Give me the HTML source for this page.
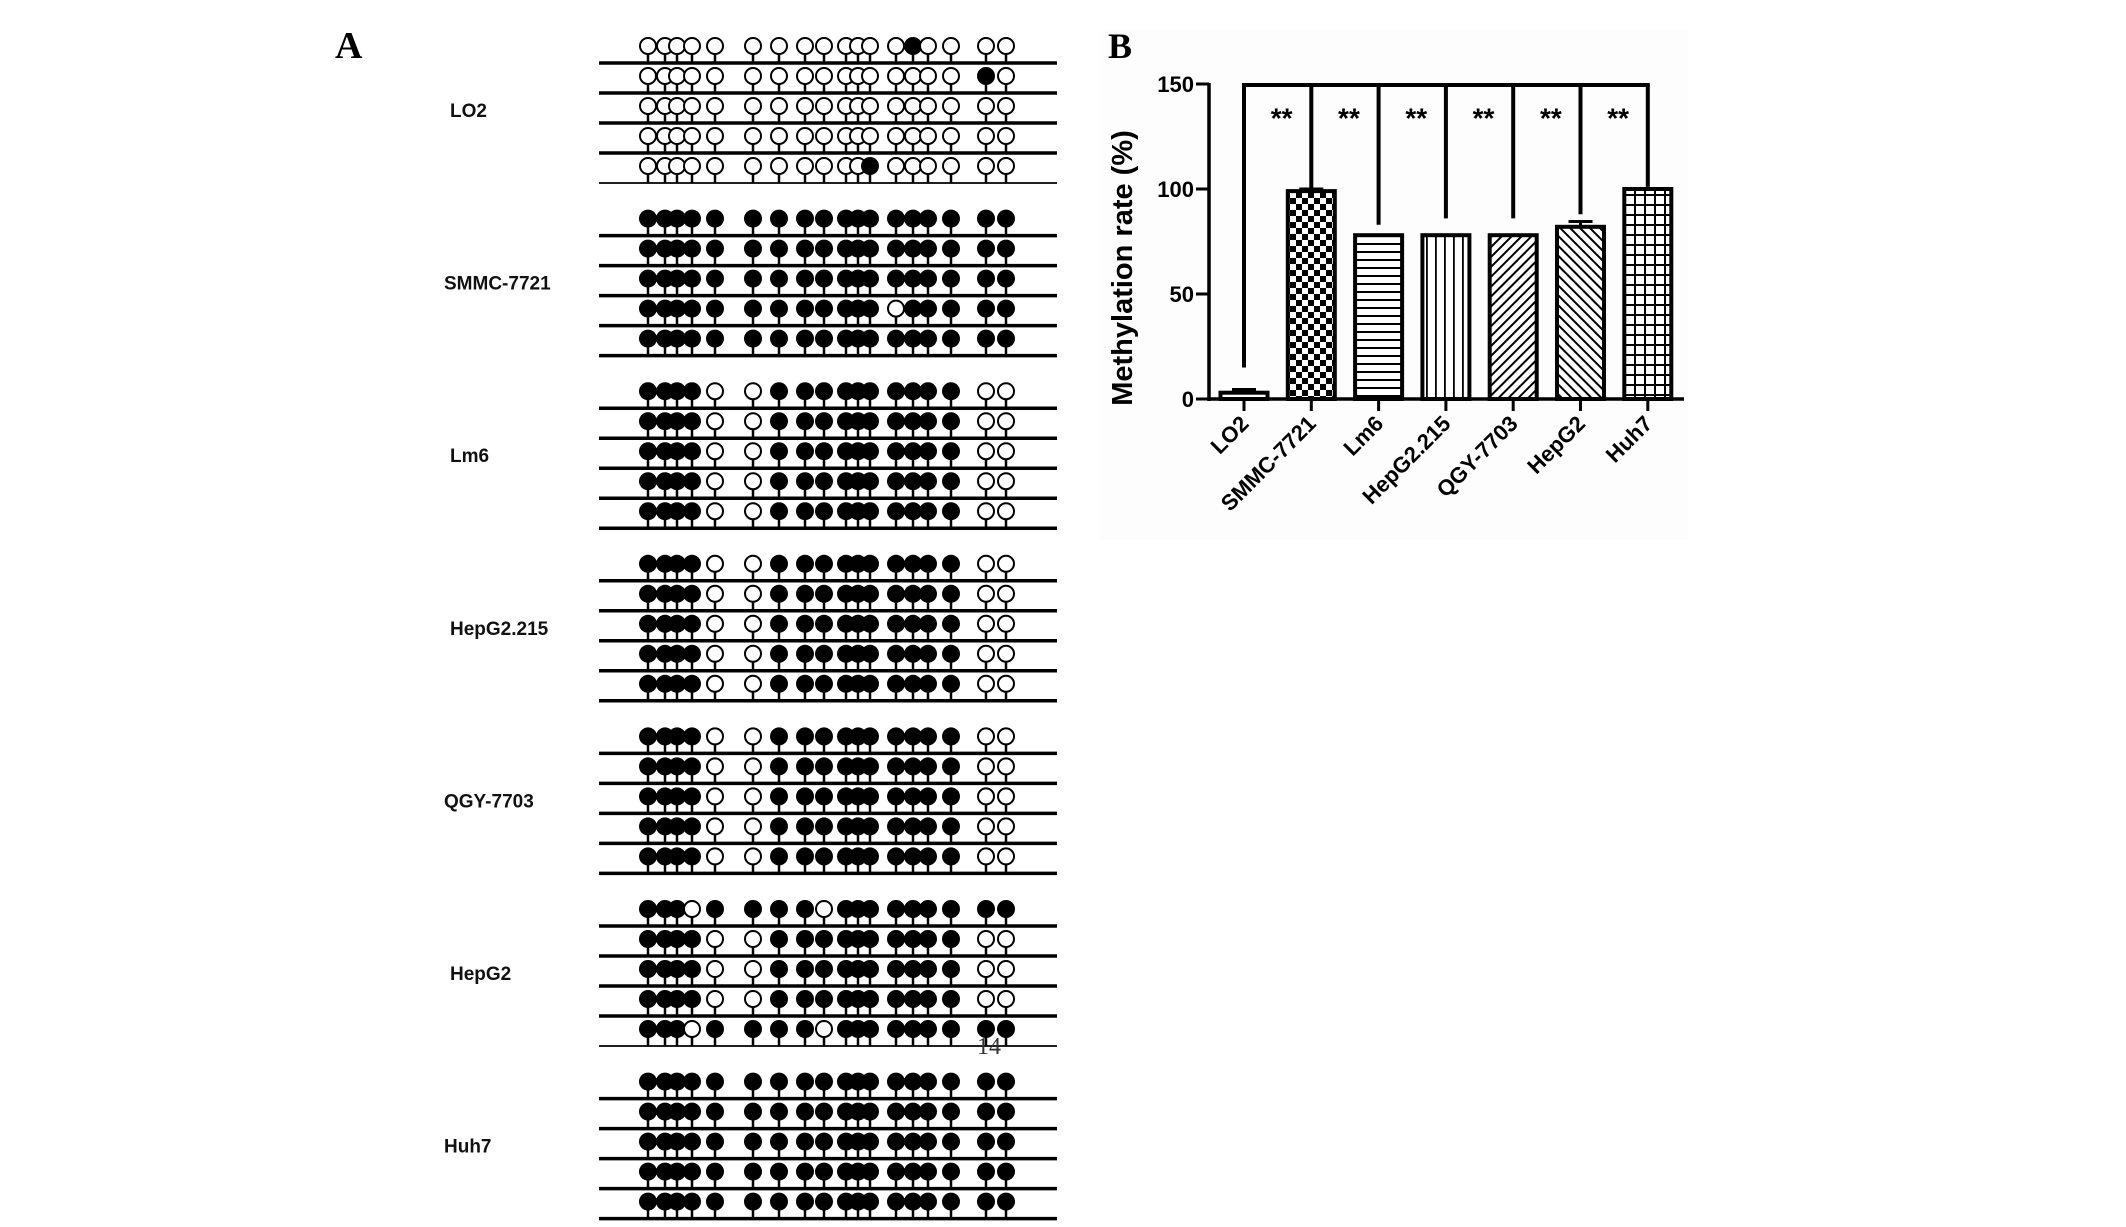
<!DOCTYPE html>
<html><head><meta charset="utf-8"><style>
html,body{margin:0;padding:0;background:#fff;}
svg{display:block;}
</style></head><body>
<svg id="fig" width="2126" height="1227" viewBox="0 0 2126 1227" xmlns="http://www.w3.org/2000/svg">
<defs>
<pattern id="p-check" width="12" height="12" patternUnits="userSpaceOnUse"><rect width="12" height="12" fill="#fff"/><rect width="6" height="6" fill="#000"/><rect x="6" y="6" width="6" height="6" fill="#000"/></pattern>
<pattern id="p-horiz" width="10" height="8" patternUnits="userSpaceOnUse"><rect width="10" height="8" fill="#fff"/><rect y="3" width="10" height="2" fill="#000"/></pattern>
<pattern id="p-vert" width="9" height="10" patternUnits="userSpaceOnUse"><rect width="9" height="10" fill="#fff"/><rect x="4" width="1.8" height="10" fill="#000"/></pattern>
<pattern id="p-fwd" width="7" height="7" patternUnits="userSpaceOnUse" patternTransform="rotate(45)"><rect width="7" height="7" fill="#fff"/><rect x="3" width="2" height="7" fill="#000"/></pattern>
<pattern id="p-back" width="7" height="7" patternUnits="userSpaceOnUse" patternTransform="rotate(-45)"><rect width="7" height="7" fill="#fff"/><rect x="3" width="2" height="7" fill="#000"/></pattern>
<pattern id="p-grid" width="10" height="10" patternUnits="userSpaceOnUse"><rect width="10" height="10" fill="#fff"/><rect x="4" width="2" height="10" fill="#000"/><rect y="4" width="10" height="2" fill="#000"/></pattern>
<pattern id="p-dot" width="6" height="6" patternUnits="userSpaceOnUse"><rect width="6" height="6" fill="#fff"/><rect x="2" y="2" width="2" height="2" fill="#000"/></pattern>
</defs>
<g id="panelA"></g>
<g id="panelB"></g>
</svg>
<script>
// ---------- Panel A data ----------
const cellLines = ["LO2","SMMC-7721","Lm6","HepG2.215","QGY-7703","HepG2","Huh7"];
const cpgPositions = [648,665,677,692,715,753,779,805,824,846,858,870,896,913,928,951,986,1006];
const lo2Rows = ["000000000000010000","000000000000000010","000000000000000000","000000000000000000","000000000001000000"];
const smmcRows = ["111111111111111111","111111111111111111","111111111111111111","111111111111011111","111111111111111111"];
const lm6Rows = ["111100111111111100","111100111111111100","111100111111111100","111100111111111100","111100111111111100"];
const hep215Rows = ["111100111111111100","111100111111111100","111100111111111100","111100111111111100","111100111111111100"];
const qgyRows = ["111100111111111100","111100111111111100","111100111111111100","111100111111111100","111100111111111100"];
const hepg2Rows = ["111011110111111111","111100111111111100","111100111111111100","111100111111111100","111011110111111111"];
const huh7Rows = ["111111111111111111","111111111111111111","111111111111111111","111111111111111111","111111111111111111"];
const allRows = [lo2Rows,smmcRows,lm6Rows,hep215Rows,qgyRows,hepg2Rows,huh7Rows];

// ---------- Panel B data ----------
const barCategories = ["LO2","SMMC-7721","Lm6","HepG2.215","QGY-7703","HepG2","Huh7"];
const barValues = [3,99,78,78,78,82,100];
const barErrors = [1.5,1,0,0,0,2.5,0];
const bracketEnds = [15,100,83,86,86,88,101];
const yTicks = [0,50,100,150];
const sigLabels = ["**","**","**","**","**","**"];

const NS="http://www.w3.org/2000/svg";
function mk(tag, attrs, parent){const e=document.createElementNS(NS,tag);for(const k in attrs)e.setAttribute(k,attrs[k]);parent.appendChild(e);return e;}

// ---------- Panel A ----------
const A=document.getElementById('panelA');
const lblA=mk('text',{x:335,y:58,'font-family':'Liberation Serif, serif','font-weight':'bold','font-size':38},A);
lblA.textContent='A';


const groupTop=63, groupStep=172.6, rowStep=30;
allRows.forEach((rows,g)=>{
  const gEl=mk('g',{},A);
  
  
  const t=mk('text',{x:(g===1||g===4||g===6)?444:450,y:groupTop+g*groupStep+54,'font-family':'Liberation Sans, sans-serif','font-weight':'bold','font-size':19,fill:'#111'},gEl);
  t.textContent=cellLines[g];
  
  
  rows.forEach((row,r)=>{
    const ly=groupTop+g*groupStep+r*rowStep;
    const thin=(g===0&&r===4)||(g===5&&r===4);
    const ln=mk('line',{x1:599,x2:1057,y1:ly,y2:ly,stroke:'#000','stroke-width':thin?1.8:3.5},gEl);
    
    
    cpgPositions.forEach((cx,i)=>{
      const cy=ly-17;
      const st=mk('line',{x1:cx,x2:cx,y1:cy+8,y2:ly,stroke:'#000','stroke-width':2.5},gEl);
      
      
    });
    cpgPositions.forEach((cx,i)=>{
      const cy=ly-17;
      const filled=row[i]==='1';
      const c=mk('circle',{cx:cx,cy:cy,r:filled?9:8,fill:filled?'#000':'#fff',stroke:'#000','stroke-width':filled?0:2},gEl);
      
      
    });
  });
});
const n14=mk('text',{x:977,y:1054,'font-family':'Liberation Serif, serif','font-size':24,fill:'#333'},A);
n14.textContent='14';



// ---------- Panel B ----------
const B=document.getElementById('panelB');
const bg=mk('rect',{x:1100,y:30,width:588,height:510,fill:'#fdfdfd'},B);


const lblB=mk('text',{x:1108,y:58,'font-family':'Liberation Serif, serif','font-weight':'bold','font-size':36},B);
lblB.textContent='B';



const axX=1209, y0=399, yTop=84, yMax=150;
const firstX=1244, stepX=67.3, barW=47;
const yS=v=>y0-(v/yMax)*(y0-yTop);
const xS=i=>firstX+i*stepX;
const patterns=['p-dot','p-check','p-horiz','p-vert','p-fwd','p-back','p-grid'];

// y axis
const ya=mk('line',{x1:axX,x2:axX,y1:yTop-1,y2:y0+2,stroke:'#000','stroke-width':3.5},B);


yTicks.forEach(v=>{
  const tk=mk('line',{x1:axX-13,x2:axX,y1:yS(v),y2:yS(v),stroke:'#000','stroke-width':3},B);
  
  
  const tl=mk('text',{x:axX-15,y:yS(v)+8,'text-anchor':'end','font-family':'Liberation Sans, sans-serif','font-weight':'bold','font-size':22},B);
  tl.textContent=String(v);
  
  
});
const yt=mk('text',{x:0,y:0,transform:'translate(1132,268) rotate(-90)','text-anchor':'middle','font-family':'Liberation Sans, sans-serif','font-weight':'bold','font-size':29},B);
yt.textContent='Methylation rate (%)';



// bars
barValues.forEach((v,i)=>{
  const x=xS(i)-barW/2;
  const top=yS(v);
  if(barErrors[i]>0){
    const e=yS(v+barErrors[i]);
    const el=mk('line',{x1:xS(i),x2:xS(i),y1:e,y2:top,stroke:'#000','stroke-width':3},B);
    
    
    const ec=mk('line',{x1:xS(i)-12,x2:xS(i)+12,y1:e,y2:e,stroke:'#000','stroke-width':3},B);
    
    
  }
  const b=mk('rect',{x:x,y:top,width:barW,height:y0-top,fill:'url(#'+patterns[i]+')',stroke:'#000','stroke-width':4},B);
  
  
});

// x axis
const xa=mk('line',{x1:axX,x2:1684,y1:y0,y2:y0,stroke:'#000','stroke-width':3.5},B);


barCategories.forEach((c,i)=>{
  const tk=mk('line',{x1:xS(i),x2:xS(i),y1:y0,y2:y0+12,stroke:'#000','stroke-width':3},B);
  
  
  const tl=mk('text',{x:0,y:0,transform:'translate('+(xS(i)+6)+','+(y0+26)+') rotate(-45)','text-anchor':'end','font-family':'Liberation Sans, sans-serif','font-weight':'bold','font-size':22},B);
  tl.textContent=c;
  
  
});

// significance brackets
const topY=yS(150)+1;
const br=mk('line',{x1:xS(0)-2,x2:xS(barCategories.length-1)+2,y1:topY,y2:topY,stroke:'#000','stroke-width':4},B);


bracketEnds.forEach((v,i)=>{
  const l=mk('line',{x1:xS(i),x2:xS(i),y1:topY,y2:yS(v),stroke:'#000','stroke-width':4},B);
  
  
});
sigLabels.forEach((s,i)=>{
  const t=mk('text',{x:(xS(i)+xS(i+1))/2+4,y:yS(136)+14,'text-anchor':'middle','font-family':'Liberation Sans, sans-serif','font-weight':'bold','font-size':28},B);
  t.textContent=s;
  
  
});
</script>
</body></html>
